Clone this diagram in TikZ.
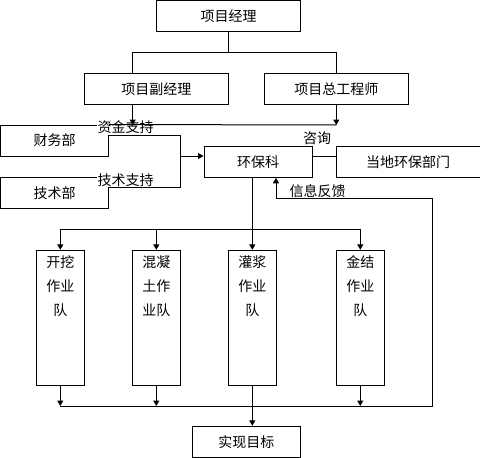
\documentclass[tikz,border=0pt]{standalone}
\usepackage{fontspec}
\setmainfont{Noto Sans CJK SC}
\usetikzlibrary{arrows.meta}
\begin{document}
\begin{tikzpicture}[x=1pt,y=-1pt,
  txtfont/.style={font=\fontsize{14pt}{24pt}\selectfont},
  box/.style={draw,line width=1pt,inner sep=0pt,txtfont},
  teamtxt/.style={inner sep=0pt,align=center,anchor=north,txtfont},
  lbl/.style={inner sep=0.8pt,fill=white,txtfont},
  conn/.style={line width=1pt},
  arr/.style={conn,-{Triangle[length=5.5pt,width=6pt]}},
]
\useasboundingbox (0,0) rectangle (480,458);
\clip (0,0) rectangle (480,458);

% boxes
\node[box,minimum width=143.6pt,minimum height=30.8pt] (pm) at (228.5,16) {项目经理};
\node[box,minimum width=144pt,minimum height=31.3pt] (vpm) at (156.3,88.7) {项目副经理};
\node[box,minimum width=144pt,minimum height=31.3pt] (ce) at (336.3,88.7) {项目总工程师};
\node[box,minimum width=108.2pt,minimum height=31pt] (fin) at (54.6,140.5) {财务部};
\node[box,minimum width=108.2pt,minimum height=31pt] (tech) at (54.6,192.8) {技术部};
\node[box,minimum width=108.3pt,minimum height=31.3pt] (env) at (258.2,161.7) {环保科};
\node[box,minimum width=144pt,minimum height=31.3pt] (local) at (408,161.7) {当地环保部门};
\node[box,minimum width=48pt,minimum height=134.7pt] (t1) at (60.3,317.7) {};
\node[box,minimum width=48pt,minimum height=134.7pt] (t2) at (156.3,317.7) {};
\node[box,minimum width=48pt,minimum height=134.7pt] (t3) at (252.3,317.7) {};
\node[box,minimum width=48pt,minimum height=134.7pt] (t4) at (360.3,317.7) {};
\node[teamtxt] (t1txt) at (60.3,255.7) {开挖\\作业\\队};
\node[teamtxt] (t2txt) at (156.3,255.7) {混凝\\土作\\业队};
\node[teamtxt] (t3txt) at (252.3,255.7) {灌浆\\作业\\队};
\node[teamtxt] (t4txt) at (360.3,255.7) {金结\\作业\\队};
\node[box,minimum width=108pt,minimum height=31.4pt] (goal) at (246.3,442) {实现目标};

% labels
\node[lbl] (l1) at (125.5,127.5) {资金支持};
\node[lbl] (l2) at (125.5,179.8) {技术支持};
\node[lbl] (l3) at (317,138.5) {咨询};
\node[lbl] (l4) at (317.5,191) {信息反馈};

% coordinates
\coordinate (a1) at (132.7,52);
\coordinate (a2) at (336.3,52);
\coordinate (b1) at (132.7,125);
\coordinate (b2) at (336.3,125);
\coordinate (c1) at (180.3,135.7);
\coordinate (c2) at (180.3,187.3);
\coordinate (c3) at (180.3,156);
\coordinate (d0) at (252.3,229.3);
\coordinate (d1) at (360.7,229.3);
\coordinate (e) at (432.3,406);
\coordinate (f) at (432.3,198.7);
\coordinate (g) at (276,198.7);

% connectors
\draw[conn] (pm.south) -- (pm.south |- a1);
\draw[conn] (a1) -- (a2);
\draw[conn] (a1) -- (a1 |- vpm.north);
\draw[conn] (a2) -- (ce.north);
\draw[conn] (fin.north east) -- (b2);
\draw[arr] (a1 |- vpm.south) -- (b1);
\draw[arr] (ce.south) -- (b2);
\draw[conn] (fin.east |- c1) -- (c1) -- (c2) -- (tech.east |- c2);
\draw[arr] (c3) -- (env.west |- c3);
\draw[conn] (env.east |- c3) -- (local.west |- c3);
\draw[conn] (d0 |- env.south) -- (d0);
\draw[conn] (t1.north |- d0) -- (d1);
\draw[arr] (t1.north |- d0) -- (t1.north);
\draw[arr] (t2.north |- d0) -- (t2.north);
\draw[arr] (t3.north |- d0) -- (t3.north);
\draw[arr] (t4.north |- d0) -- (t4.north);
\draw[arr] (t1.south) -- (t1.south |- e);
\draw[arr] (t2.south) -- (t2.south |- e);
\draw[arr] (t4.south) -- (t4.south |- e);
\draw[conn] (t1.south |- e) -- (e) -- (f) -- (g);
\draw[arr] (g) -- (g |- env.south);
\draw[arr] (t3.south) -- (t3.south |- goal.north);
\end{tikzpicture}
\end{document}
